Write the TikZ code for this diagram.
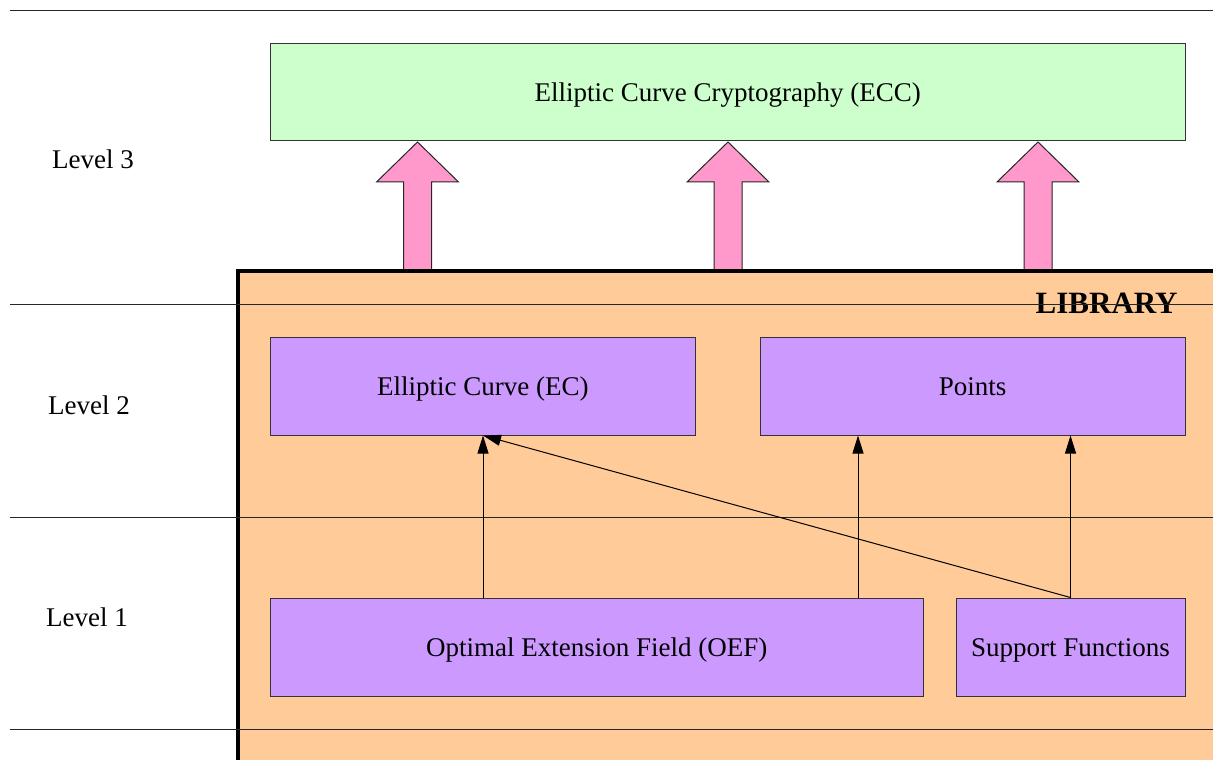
\documentclass[tikz,border=0pt]{standalone}
\usepackage{fontspec}
\setmainfont{Liberation Serif}
\usetikzlibrary{arrows.meta}
\definecolor{eccgreen}{HTML}{CCFFCC}
\definecolor{libpeach}{HTML}{FFCC99}
\definecolor{modpurple}{HTML}{CC99FF}
\definecolor{uppink}{HTML}{FF99CC}
\definecolor{edgegray}{HTML}{333333}
\tikzset{
  modbox/.style={draw=edgegray, line width=0.5pt, fill=modpurple, inner sep=0pt,
    minimum height=49pt, text height=11pt, text depth=1.5pt,
    font=\fontsize{13.5}{16}\selectfont},
  levelline/.style={draw=black!85, line width=0.5pt},
  levellabel/.style={font=\fontsize{13.5}{16}\selectfont},
  blockarrow/.style={draw=black!85, line width=0.5pt, fill=uppink},
  dep/.style={draw=black, line width=0.5pt, -{Triangle[length=9pt,width=5.5pt]}}
}
\begin{document}
\begin{tikzpicture}[x=0.5pt, y=-0.5pt]
\useasboundingbox (0,0) rectangle (1213,759);
\clip (0,0) rectangle (1213,759);

% upward block arrows from the library into ECC
\foreach \cx in {417.5,728,1038}{
  \draw[blockarrow] (\cx-14,280) -- (\cx-14,182) -- (\cx-41,182) -- (\cx,142)
    -- (\cx+41,182) -- (\cx+14,182) -- (\cx+14,280) -- cycle;
}

% library container
\draw[line width=2pt, fill=libpeach] (237.5,271) rectangle (1240,790);
\node[anchor=south east, font=\fontsize{15.5}{18}\selectfont\bfseries, inner sep=0pt]
  (libtitle) at (1178,314) {LIBRARY};

% level separators
\draw[levelline] (10,11) -- (1213,11);
\draw[levelline] (10,304) -- (1213,304);
\draw[levelline] (10,517) -- (1213,517);
\draw[levelline] (10,729) -- (1213,729);

% level labels
\node[levellabel] (l3) at (93,159) {Level 3};
\node[levellabel] (l2) at (89,405) {Level 2};
\node[levellabel] (l1) at (87,617) {Level 1};

% modules
\node[modbox, fill=eccgreen, minimum width=457.25pt, minimum height=48.5pt]
  (ecc) at (727.75,92.5) {Elliptic Curve Cryptography (ECC)};
\node[modbox, minimum width=212.25pt] (ec) at (482.75,386) {Elliptic Curve (EC)};
\node[modbox, minimum width=212.5pt] (pts) at (972.5,386) {Points};
\node[modbox, minimum width=326.25pt] (oef) at (596.75,647) {Optimal Extension Field (OEF)};
\node[modbox, minimum width=114.5pt] (sup) at (1070.5,647) {Support Functions};

% dependencies
\coordinate (ecin) at (483,435.5);
\draw[dep] (oef.north -| ecin) -- (ecin);
\draw[dep] (oef.north -| 858,0) -- (pts.south -| 858,0);
\draw[dep] (sup.north) -- (pts.south -| sup.north);
\draw[dep] (sup.north) -- (ecin);
\end{tikzpicture}
\end{document}
